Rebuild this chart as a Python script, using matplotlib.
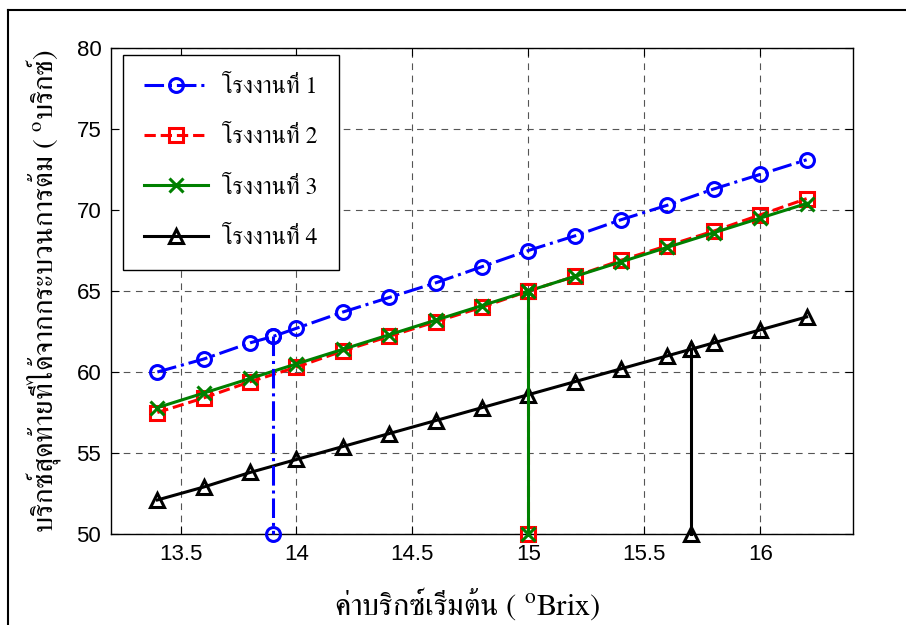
import numpy as np
import matplotlib
matplotlib.use("Agg")
import matplotlib.pyplot as plt
from matplotlib import font_manager
from matplotlib.ft2font import FT2Font
from matplotlib.lines import Line2D

# Brix readings for the four factories
x_vals = [13.4, 13.6, 13.8, 14.0, 14.2, 14.4, 14.6, 14.8, 15.0,
          15.2, 15.4, 15.6, 15.8, 16.0, 16.2]
plant1 = [60.0, 60.8, 61.8, 62.7, 63.7, 64.6, 65.5, 66.5, 67.5,
          68.4, 69.4, 70.3, 71.3, 72.2, 73.1]
plant2 = [57.5, 58.4, 59.4, 60.3, 61.3, 62.2, 63.1, 64.0, 65.0,
          65.9, 66.9, 67.8, 68.7, 69.7, 70.7]
plant3 = [57.8, 58.7, 59.6, 60.5, 61.4, 62.3, 63.2, 64.1, 65.0,
          65.9, 66.8, 67.7, 68.6, 69.5, 70.4]
plant4 = [52.1, 52.9, 53.8, 54.6, 55.4, 56.2, 57.0, 57.8, 58.6,
          59.4, 60.2, 61.0, 61.8, 62.6, 63.4]

# operating point of each factory (initial brix, final brix)
op_x = [13.9, 15.0, 15.0, 15.7]
op_y = [62.2, 65.0, 65.0, 61.4]
y_floor = 50

labels = ["โรงงานที่ 1", "โรงงานที่ 2", "โรงงานที่ 3", "โรงงานที่ 4"]
xticks = [13.5, 14, 14.5, 15, 15.5, 16]
yticks = [50, 55, 60, 65, 70, 75, 80]


def find_thai_font():
    """Return the family name of an installed font that has Thai glyphs."""
    found = []
    for path in font_manager.findSystemFonts():
        try:
            cmap = FT2Font(path).get_charmap()
        except Exception:
            continue
        if 0x0E01 in cmap and 0x0E48 in cmap:
            found.append(path)
    if not found:
        return "DejaVu Sans"
    found.sort(key=lambda p: ("serif" not in p.lower(), "bold" in p.lower(), p))
    return font_manager.FontProperties(fname=found[0]).get_name()


thai = find_thai_font()

plt.rcParams["font.family"] = ["Liberation Sans", "DejaVu Sans"]
plt.rcParams["mathtext.fontset"] = "stix"

fig = plt.figure(figsize=(9.06, 6.25), dpi=100)
ax = fig.add_axes([0.1225, 0.1456, 0.819, 0.7776])

styles = [
    dict(color="#0000ff", linestyle="-.", marker="o", mfc="none"),
    dict(color="#ff0000", linestyle="--", marker="s", mfc="none"),
    dict(color="#008000", linestyle="-", marker="x", mfc="none"),
    dict(color="#000000", linestyle="-", marker="^", mfc="none"),
]
series = [plant1, plant2, plant3, plant4]

for i, (ys, st) in enumerate(zip(series, styles)):
    # add the operating point into the curve so its marker sits on the line
    pts = sorted(set(zip(x_vals, ys)) | {(op_x[i], op_y[i])})
    px = [p[0] for p in pts]
    py = [p[1] for p in pts]
    ax.plot(px, py, lw=2.2, ms=10, mew=2.2, label=labels[i], **st)
    ax.plot([op_x[i], op_x[i]], [op_y[i], y_floor], lw=2.2, ms=10, mew=2.2,
            clip_on=False, zorder=5, **st)

ax.set_xlim(13.2, 16.4)
ax.set_ylim(50, 80)
ax.set_xticks(xticks)
ax.set_xticklabels([f"{t:g}" for t in xticks])
ax.set_yticks(yticks)
ax.tick_params(direction="in", top=True, right=True, length=6, width=0.8,
               labelsize=16, pad=7)
ax.grid(True, linestyle=(0, (6, 5)), color="#555555", linewidth=0.8)
for sp in ax.spines.values():
    sp.set_linewidth(1.0)

ax.set_xlabel("ค่าบริกซ์เริ่มต้น ( $^{\\mathrm{o}}$Brix)", family=thai,
              fontsize=22, labelpad=12)
ax.xaxis.set_label_coords(0.48, -0.105)
ax.set_ylabel("บริกซ์สุดท้ายที่ได้จากกระบวนการต้ม ( $^{\\mathrm{o}}$บริกซ์)",
              family=thai, fontsize=21, labelpad=10)

leg = ax.legend(loc="upper left", prop={"family": thai, "size": 17},
                fancybox=False, edgecolor="black", framealpha=1,
                handlelength=2.7, handletextpad=0.6, labelspacing=1.2,
                borderpad=0.9, borderaxespad=0,
                bbox_to_anchor=(0.016, 0.986))
leg.get_frame().set_linewidth(1.0)

# outer frame around the figure
fig.add_artist(Line2D([0.009, 0.009], [0.0, 0.984], transform=fig.transFigure,
                      color="black", lw=1.5))
fig.add_artist(Line2D([0.009, 1.0], [0.984, 0.984], transform=fig.transFigure,
                      color="black", lw=1.5))

fig.savefig("out.png", dpi=100)
